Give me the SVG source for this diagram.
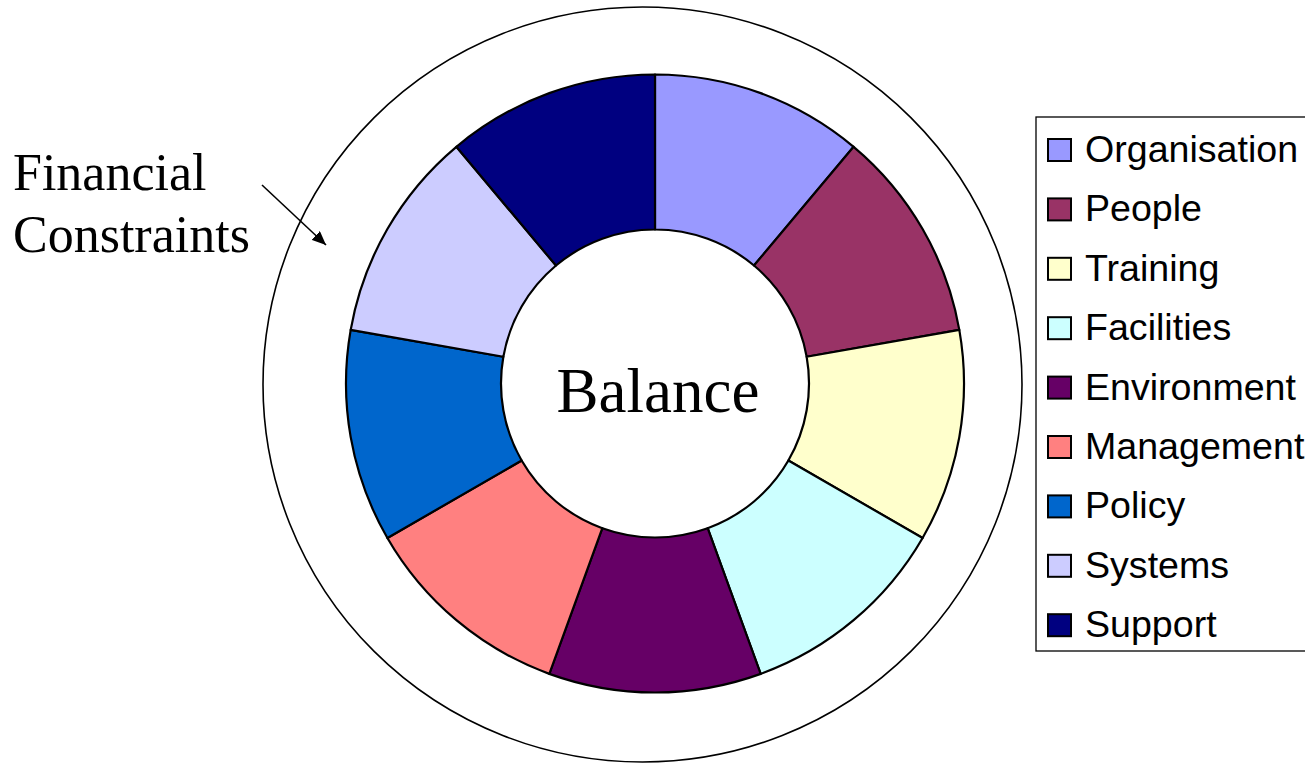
<svg xmlns="http://www.w3.org/2000/svg" width="1305" height="763" viewBox="0 0 1305 763">
<defs>
<style>
.seg{stroke:#000;stroke-width:2.2;stroke-linejoin:round}
.sw{stroke:#000;stroke-width:2}
.lt{font-family:"Liberation Sans",Arial,sans-serif;font-size:37.6px;fill:#000}
.st{font-family:"Liberation Serif","Times New Roman",serif;fill:#000}
</style>
<marker id="ah" viewBox="0 0 14 12" refX="14" refY="6" markerWidth="14" markerHeight="12" markerUnits="userSpaceOnUse" orient="auto">
<path d="M0,0 L14,6 L0,12 Z" fill="#000"/>
</marker>
</defs>
<rect width="1305" height="763" fill="#fff"/>
<g id="outer-circle">
<ellipse cx="642.5" cy="384.5" rx="379.5" ry="377.5" fill="none" stroke="#000" stroke-width="1.6"/>
</g>
<g id="donut">
<g id="seg-organisation"><path class="seg" fill="#9999FF" d="M655,74.5 A309,309 0 0 1 853.62,146.79 L753.99,265.53 A154,154 0 0 0 655,229.5 Z"/></g>
<g id="seg-people"><path class="seg" fill="#993366" d="M853.62,146.79 A309,309 0 0 1 959.31,329.84 L806.66,356.76 A154,154 0 0 0 753.99,265.53 Z"/></g>
<g id="seg-training"><path class="seg" fill="#FFFFCC" d="M959.31,329.84 A309,309 0 0 1 922.60,538 L788.37,460.5 A154,154 0 0 0 806.66,356.76 Z"/></g>
<g id="seg-facilities"><path class="seg" fill="#CCFFFF" d="M922.60,538 A309,309 0 0 1 760.68,673.86 L707.67,528.21 A154,154 0 0 0 788.37,460.5 Z"/></g>
<g id="seg-environment"><path class="seg" fill="#660066" d="M760.68,673.86 A309,309 0 0 1 549.32,673.86 L602.33,528.21 A154,154 0 0 0 707.67,528.21 Z"/></g>
<g id="seg-management"><path class="seg" fill="#FF8080" d="M549.32,673.86 A309,309 0 0 1 387.40,538 L521.63,460.5 A154,154 0 0 0 602.33,528.21 Z"/></g>
<g id="seg-policy"><path class="seg" fill="#0066CC" d="M387.40,538 A309,309 0 0 1 350.69,329.84 L503.34,356.76 A154,154 0 0 0 521.63,460.5 Z"/></g>
<g id="seg-systems"><path class="seg" fill="#CCCCFF" d="M350.69,329.84 A309,309 0 0 1 456.38,146.79 L556.01,265.53 A154,154 0 0 0 503.34,356.76 Z"/></g>
<g id="seg-support"><path class="seg" fill="#000080" d="M456.38,146.79 A309,309 0 0 1 655,74.5 L655,229.5 A154,154 0 0 0 556.01,265.53 Z"/></g>
</g>
<g id="balance">
<text class="st" x="658" y="412" font-size="63" text-anchor="middle">Balance</text>
</g>
<g id="financial-constraints">
<text class="st" x="13" y="190" font-size="52">Financial</text>
<text class="st" x="13" y="252" font-size="52">Constraints</text>
</g>
<g id="connectors">
<line x1="262" y1="185" x2="326" y2="245" stroke="#000" stroke-width="1.6" marker-end="url(#ah)"/>
</g>
<g id="legend">
<rect x="1036" y="117" width="300" height="534" fill="#fff" stroke="#000" stroke-width="1.3"/>
<g id="leg-organisation"><rect class="sw" x="1048" y="139" width="23" height="22" fill="#9999FF"/><text class="lt" x="1085" y="162">Organisation</text></g>
<g id="leg-people"><rect class="sw" x="1048" y="198.4" width="23" height="22" fill="#993366"/><text class="lt" x="1085" y="221.4">People</text></g>
<g id="leg-training"><rect class="sw" x="1048" y="257.8" width="23" height="22" fill="#FFFFCC"/><text class="lt" x="1085" y="280.8">Training</text></g>
<g id="leg-facilities"><rect class="sw" x="1048" y="317.2" width="23" height="22" fill="#CCFFFF"/><text class="lt" x="1085" y="340.2">Facilities</text></g>
<g id="leg-environment"><rect class="sw" x="1048" y="376.6" width="23" height="22" fill="#660066"/><text class="lt" x="1085" y="399.6">Environment</text></g>
<g id="leg-management"><rect class="sw" x="1048" y="436" width="23" height="22" fill="#FF8080"/><text class="lt" x="1085" y="459">Management</text></g>
<g id="leg-policy"><rect class="sw" x="1048" y="495.4" width="23" height="22" fill="#0066CC"/><text class="lt" x="1085" y="518.4">Policy</text></g>
<g id="leg-systems"><rect class="sw" x="1048" y="554.8" width="23" height="22" fill="#CCCCFF"/><text class="lt" x="1085" y="577.8">Systems</text></g>
<g id="leg-support"><rect class="sw" x="1048" y="614.2" width="23" height="22" fill="#000080"/><text class="lt" x="1085" y="637.2">Support</text></g>
</g>
</svg>
